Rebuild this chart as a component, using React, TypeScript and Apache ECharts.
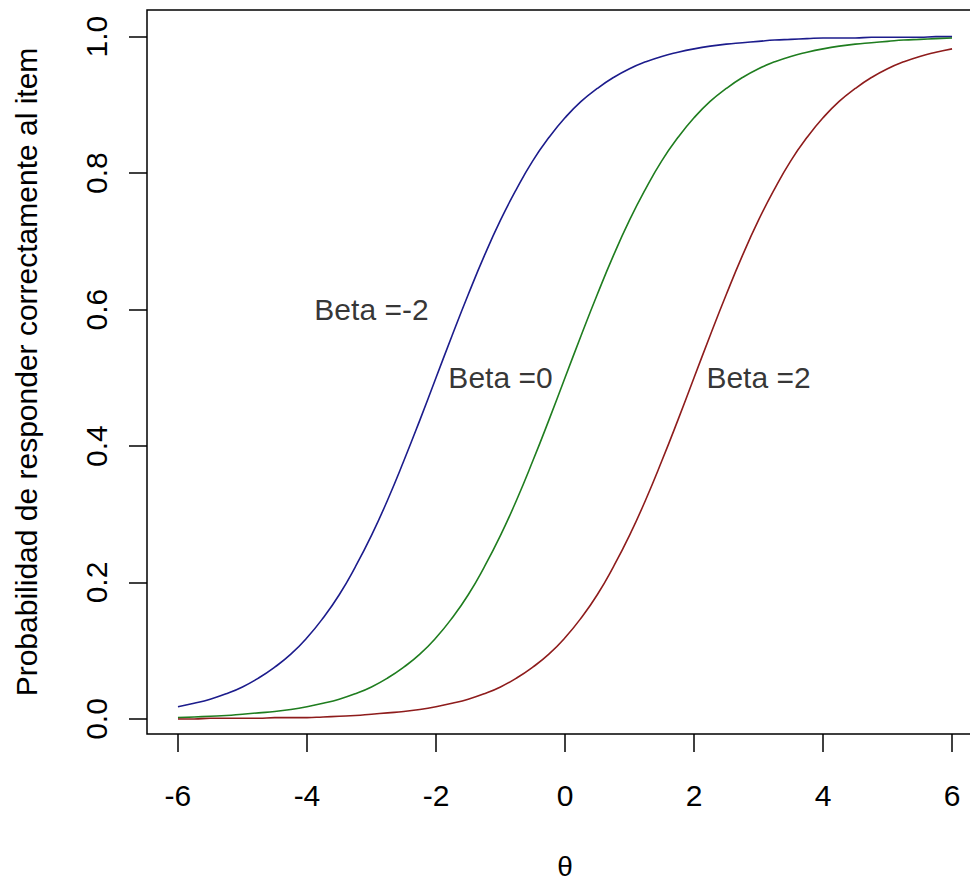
import React, { useEffect, useRef } from "react";
import * as echarts from "echarts";

const thetaValues = [
  -6, -5.75, -5.5, -5.25, -5, -4.75, -4.5, -4.25, -4, -3.75, -3.5, -3.25, -3, -2.75, -2.5, -2.25,
  -2, -1.75, -1.5, -1.25, -1, -0.75, -0.5, -0.25, 0, 0.25, 0.5, 0.75, 1, 1.25, 1.5, 1.75,
  2, 2.25, 2.5, 2.75, 3, 3.25, 3.5, 3.75, 4, 4.25, 4.5, 4.75, 5, 5.25, 5.5, 5.75, 6,
];

const betaMinus2 = [
  0.018, 0.023, 0.029, 0.037, 0.047, 0.06, 0.076, 0.095, 0.119, 0.148, 0.182, 0.223, 0.269, 0.321, 0.378, 0.438,
  0.5, 0.562, 0.622, 0.679, 0.731, 0.777, 0.818, 0.852, 0.881, 0.905, 0.924, 0.94, 0.953, 0.963, 0.971, 0.977,
  0.982, 0.986, 0.989, 0.991, 0.993, 0.995, 0.996, 0.997, 0.998, 0.998, 0.998, 0.999, 0.999, 0.999, 0.999, 1.0, 1.0,
];

const beta0 = [
  0.002, 0.003, 0.004, 0.005, 0.007, 0.009, 0.011, 0.014, 0.018, 0.023, 0.029, 0.037, 0.047, 0.06, 0.076, 0.095,
  0.119, 0.148, 0.182, 0.223, 0.269, 0.321, 0.378, 0.438, 0.5, 0.562, 0.622, 0.679, 0.731, 0.777, 0.818, 0.852,
  0.881, 0.905, 0.924, 0.94, 0.953, 0.963, 0.971, 0.977, 0.982, 0.986, 0.989, 0.991, 0.993, 0.995, 0.996, 0.997, 0.998,
];

const beta2 = [
  0.0, 0.0, 0.001, 0.001, 0.001, 0.001, 0.002, 0.002, 0.002, 0.003, 0.004, 0.005, 0.007, 0.009, 0.011, 0.014,
  0.018, 0.023, 0.029, 0.037, 0.047, 0.06, 0.076, 0.095, 0.119, 0.148, 0.182, 0.223, 0.269, 0.321, 0.378, 0.438,
  0.5, 0.562, 0.622, 0.679, 0.731, 0.777, 0.818, 0.852, 0.881, 0.905, 0.924, 0.94, 0.953, 0.963, 0.971, 0.977, 0.982,
];

const xTicks = [-6, -4, -2, 0, 2, 4, 6];
const yTicks = [0, 0.2, 0.4, 0.6, 0.8, 1.0];

const annotations = [
  { text: "Beta =-2", theta: -3, p: 0.6 },
  { text: "Beta =0", theta: -1, p: 0.5 },
  { text: "Beta =2", theta: 3, p: 0.5 },
];

const FONT = "'Liberation Sans', Arial, sans-serif";

export default function App() {
  const ref = useRef<HTMLDivElement>(null);

  useEffect(() => {
    if (!ref.current) return;
    const chart = echarts.init(ref.current, null, { renderer: "svg" });
    const mk = (vals: number[]) => thetaValues.map((t, i) => [t, vals[i]]);
    const lineSeries = (name: string, vals: number[], color: string) => ({
      name,
      type: "line",
      data: mk(vals),
      showSymbol: false,
      symbol: "none",
      smooth: true,
      lineStyle: { color, width: 1.6 },
      z: 3,
    });
    chart.setOption({
      animation: false,
      backgroundColor: "#ffffff",
      textStyle: { fontFamily: FONT },
      grid: {
        left: 147,
        top: 10,
        width: 836,
        height: 724,
        show: true,
        borderColor: "#000",
        borderWidth: 1.5,
        backgroundColor: "transparent",
        containLabel: false,
        outerBoundsMode: "none",
      },
      xAxis: {
        type: "value",
        min: -6.48,
        max: 6.48,
        name: "θ",
        nameLocation: "middle",
        nameGap: 118,
        nameTextStyle: { fontSize: 28, color: "#000", fontFamily: FONT },
        axisLine: { show: false, onZero: false },
        splitLine: { show: false },
        axisTick: { show: true, length: 18, customValues: xTicks, lineStyle: { color: "#000", width: 1.5 } },
        axisLabel: {
          show: true,
          customValues: xTicks,
          fontSize: 30,
          color: "#000",
          margin: 46,
          fontFamily: FONT,
        },
      },
      yAxis: {
        type: "value",
        min: -0.022,
        max: 1.039,
        name: "Probabilidad de responder correctamente al item",
        nameLocation: "middle",
        nameGap: 106,
        nameRotate: 90,
        nameTextStyle: { fontSize: 30, color: "#000", fontFamily: FONT },
        axisLine: { show: false, onZero: false },
        splitLine: { show: false },
        axisTick: { show: true, length: 18, customValues: yTicks, lineStyle: { color: "#000", width: 1.5 } },
        axisLabel: {
          show: true,
          customValues: yTicks,
          rotate: 90,
          fontSize: 30,
          color: "#000",
          margin: 36,
          fontFamily: FONT,
          formatter: (v: number) => v.toFixed(1),
        },
      },
      series: [
        lineSeries("Beta =-2", betaMinus2, "#1c1c8c"),
        lineSeries("Beta =0", beta0, "#1f7d1f"),
        lineSeries("Beta =2", beta2, "#8e1c1c"),
        {
          type: "scatter",
          symbolSize: 0,
          data: annotations.map((a) => ({ value: [a.theta, a.p], name: a.text })),
          label: {
            show: true,
            position: "inside",
            formatter: (p: any) => p.name,
            fontSize: 30,
            color: "#000",
            fontFamily: FONT,
          },
          z: 5,
        },
      ],
    });
    return () => chart.dispose();
  }, []);

  return (
    <div
      ref={ref}
      style={{ position: "fixed", left: 0, top: 0, width: 970, height: 882, background: "#fff" }}
    />
  );
}
